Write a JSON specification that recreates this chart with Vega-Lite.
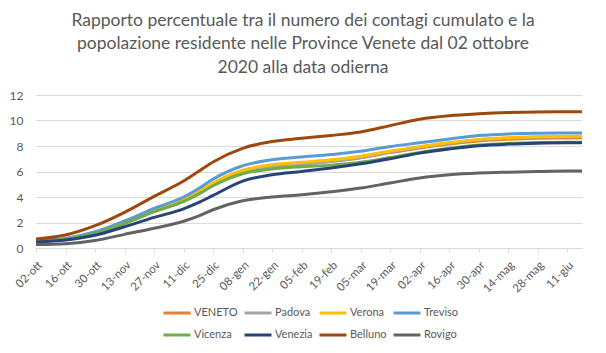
{
  "$schema": "https://vega.github.io/schema/vega-lite/v6.json",
  "autosize": {"type": "none"},
  "width": 546,
  "height": 153,
  "padding": {"left": 36, "top": 95, "right": 24, "bottom": 105},
  "background": "white",
  "title": {
    "text": ["Rapporto percentuale tra il numero dei contagi cumulato e la", "popolazione residente nelle Province Venete dal 02 ottobre", "2020 alla data odierna"],
    "anchor": "middle",
    "frame": "group",
    "dx": -6,
    "font": "Lato",
    "fontSize": 17.5,
    "fontWeight": "normal",
    "color": "#595959",
    "lineHeight": 23.5,
    "offset": 13
  },
  "datasets": {
    "d": [
      {"d":"2020-10-02","s":"VENETO","v":0.52},{"d":"2020-10-16","s":"VENETO","v":0.70},{"d":"2020-10-30","s":"VENETO","v":1.17},{"d":"2020-11-13","s":"VENETO","v":1.95},{"d":"2020-11-27","s":"VENETO","v":2.88},{"d":"2020-12-11","s":"VENETO","v":3.72},{"d":"2020-12-18","s":"VENETO","v":4.30},{"d":"2020-12-25","s":"VENETO","v":5.00},{"d":"2021-01-08","s":"VENETO","v":5.98},{"d":"2021-01-22","s":"VENETO","v":6.40},{"d":"2021-02-05","s":"VENETO","v":6.60},{"d":"2021-02-19","s":"VENETO","v":6.80},{"d":"2021-03-05","s":"VENETO","v":7.08},{"d":"2021-03-19","s":"VENETO","v":7.48},{"d":"2021-04-02","s":"VENETO","v":7.85},{"d":"2021-04-16","s":"VENETO","v":8.15},{"d":"2021-04-30","s":"VENETO","v":8.40},{"d":"2021-05-14","s":"VENETO","v":8.53},{"d":"2021-05-28","s":"VENETO","v":8.60},{"d":"2021-06-11","s":"VENETO","v":8.63},{"d":"2021-06-18","s":"VENETO","v":8.64},
      {"d":"2020-10-02","s":"Padova","v":0.50},{"d":"2020-10-16","s":"Padova","v":0.68},{"d":"2020-10-30","s":"Padova","v":1.15},{"d":"2020-11-13","s":"Padova","v":1.92},{"d":"2020-11-27","s":"Padova","v":2.85},{"d":"2020-12-11","s":"Padova","v":3.65},{"d":"2020-12-18","s":"Padova","v":4.22},{"d":"2020-12-25","s":"Padova","v":4.92},{"d":"2021-01-08","s":"Padova","v":5.92},{"d":"2021-01-22","s":"Padova","v":6.30},{"d":"2021-02-05","s":"Padova","v":6.55},{"d":"2021-02-19","s":"Padova","v":6.78},{"d":"2021-03-05","s":"Padova","v":7.10},{"d":"2021-03-19","s":"Padova","v":7.52},{"d":"2021-04-02","s":"Padova","v":7.90},{"d":"2021-04-16","s":"Padova","v":8.22},{"d":"2021-04-30","s":"Padova","v":8.48},{"d":"2021-05-14","s":"Padova","v":8.62},{"d":"2021-05-28","s":"Padova","v":8.70},{"d":"2021-06-11","s":"Padova","v":8.73},{"d":"2021-06-18","s":"Padova","v":8.74},
      {"d":"2020-10-02","s":"Verona","v":0.55},{"d":"2020-10-16","s":"Verona","v":0.72},{"d":"2020-10-30","s":"Verona","v":1.20},{"d":"2020-11-13","s":"Verona","v":2.00},{"d":"2020-11-27","s":"Verona","v":2.95},{"d":"2020-12-11","s":"Verona","v":3.80},{"d":"2020-12-18","s":"Verona","v":4.40},{"d":"2020-12-25","s":"Verona","v":5.10},{"d":"2021-01-08","s":"Verona","v":6.10},{"d":"2021-01-22","s":"Verona","v":6.53},{"d":"2021-02-05","s":"Verona","v":6.72},{"d":"2021-02-19","s":"Verona","v":6.92},{"d":"2021-03-05","s":"Verona","v":7.20},{"d":"2021-03-19","s":"Verona","v":7.60},{"d":"2021-04-02","s":"Verona","v":7.95},{"d":"2021-04-16","s":"Verona","v":8.27},{"d":"2021-04-30","s":"Verona","v":8.52},{"d":"2021-05-14","s":"Verona","v":8.65},{"d":"2021-05-28","s":"Verona","v":8.72},{"d":"2021-06-11","s":"Verona","v":8.75},{"d":"2021-06-18","s":"Verona","v":8.76},
      {"d":"2020-10-02","s":"Treviso","v":0.58},{"d":"2020-10-16","s":"Treviso","v":0.75},{"d":"2020-10-30","s":"Treviso","v":1.27},{"d":"2020-11-13","s":"Treviso","v":2.12},{"d":"2020-11-27","s":"Treviso","v":3.10},{"d":"2020-12-11","s":"Treviso","v":4.00},{"d":"2020-12-18","s":"Treviso","v":4.65},{"d":"2020-12-25","s":"Treviso","v":5.40},{"d":"2021-01-08","s":"Treviso","v":6.45},{"d":"2021-01-22","s":"Treviso","v":6.92},{"d":"2021-02-05","s":"Treviso","v":7.13},{"d":"2021-02-19","s":"Treviso","v":7.33},{"d":"2021-03-05","s":"Treviso","v":7.58},{"d":"2021-03-19","s":"Treviso","v":7.96},{"d":"2021-04-02","s":"Treviso","v":8.25},{"d":"2021-04-16","s":"Treviso","v":8.55},{"d":"2021-04-30","s":"Treviso","v":8.82},{"d":"2021-05-14","s":"Treviso","v":8.95},{"d":"2021-05-28","s":"Treviso","v":9.00},{"d":"2021-06-11","s":"Treviso","v":9.02},{"d":"2021-06-18","s":"Treviso","v":9.02},
      {"d":"2020-10-02","s":"Vicenza","v":0.52},{"d":"2020-10-16","s":"Vicenza","v":0.68},{"d":"2020-10-30","s":"Vicenza","v":1.15},{"d":"2020-11-13","s":"Vicenza","v":1.93},{"d":"2020-11-27","s":"Vicenza","v":2.85},{"d":"2020-12-11","s":"Vicenza","v":3.65},{"d":"2020-12-18","s":"Vicenza","v":4.22},{"d":"2020-12-25","s":"Vicenza","v":4.88},{"d":"2021-01-08","s":"Vicenza","v":5.82},{"d":"2021-01-22","s":"Vicenza","v":6.20},{"d":"2021-02-05","s":"Vicenza","v":6.38},{"d":"2021-02-19","s":"Vicenza","v":6.50},{"d":"2021-03-05","s":"Vicenza","v":6.72},{"d":"2021-03-19","s":"Vicenza","v":7.10},{"d":"2021-04-02","s":"Vicenza","v":7.50},{"d":"2021-04-16","s":"Vicenza","v":7.82},{"d":"2021-04-30","s":"Vicenza","v":8.07},{"d":"2021-05-14","s":"Vicenza","v":8.20},{"d":"2021-05-28","s":"Vicenza","v":8.27},{"d":"2021-06-11","s":"Vicenza","v":8.30},{"d":"2021-06-18","s":"Vicenza","v":8.30},
      {"d":"2020-10-02","s":"Venezia","v":0.48},{"d":"2020-10-16","s":"Venezia","v":0.63},{"d":"2020-10-30","s":"Venezia","v":1.00},{"d":"2020-11-13","s":"Venezia","v":1.67},{"d":"2020-11-27","s":"Venezia","v":2.40},{"d":"2020-12-11","s":"Venezia","v":3.07},{"d":"2020-12-18","s":"Venezia","v":3.55},{"d":"2020-12-25","s":"Venezia","v":4.12},{"d":"2021-01-08","s":"Venezia","v":5.25},{"d":"2021-01-22","s":"Venezia","v":5.74},{"d":"2021-02-05","s":"Venezia","v":6.00},{"d":"2021-02-19","s":"Venezia","v":6.27},{"d":"2021-03-05","s":"Venezia","v":6.60},{"d":"2021-03-19","s":"Venezia","v":7.00},{"d":"2021-04-02","s":"Venezia","v":7.44},{"d":"2021-04-16","s":"Venezia","v":7.76},{"d":"2021-04-30","s":"Venezia","v":8.02},{"d":"2021-05-14","s":"Venezia","v":8.15},{"d":"2021-05-28","s":"Venezia","v":8.22},{"d":"2021-06-11","s":"Venezia","v":8.25},{"d":"2021-06-18","s":"Venezia","v":8.25},
      {"d":"2020-10-02","s":"Belluno","v":0.70},{"d":"2020-10-16","s":"Belluno","v":1.02},{"d":"2020-10-30","s":"Belluno","v":1.75},{"d":"2020-11-13","s":"Belluno","v":2.80},{"d":"2020-11-27","s":"Belluno","v":4.05},{"d":"2020-12-11","s":"Belluno","v":5.25},{"d":"2020-12-18","s":"Belluno","v":6.00},{"d":"2020-12-25","s":"Belluno","v":6.75},{"d":"2021-01-08","s":"Belluno","v":7.82},{"d":"2021-01-22","s":"Belluno","v":8.35},{"d":"2021-02-05","s":"Belluno","v":8.60},{"d":"2021-02-19","s":"Belluno","v":8.83},{"d":"2021-03-05","s":"Belluno","v":9.10},{"d":"2021-03-19","s":"Belluno","v":9.60},{"d":"2021-04-02","s":"Belluno","v":10.10},{"d":"2021-04-16","s":"Belluno","v":10.37},{"d":"2021-04-30","s":"Belluno","v":10.52},{"d":"2021-05-14","s":"Belluno","v":10.62},{"d":"2021-05-28","s":"Belluno","v":10.67},{"d":"2021-06-11","s":"Belluno","v":10.68},{"d":"2021-06-18","s":"Belluno","v":10.68},
      {"d":"2020-10-02","s":"Rovigo","v":0.28},{"d":"2020-10-16","s":"Rovigo","v":0.34},{"d":"2020-10-30","s":"Rovigo","v":0.58},{"d":"2020-11-13","s":"Rovigo","v":1.07},{"d":"2020-11-27","s":"Rovigo","v":1.55},{"d":"2020-12-11","s":"Rovigo","v":2.10},{"d":"2020-12-18","s":"Rovigo","v":2.50},{"d":"2020-12-25","s":"Rovigo","v":3.00},{"d":"2021-01-08","s":"Rovigo","v":3.70},{"d":"2021-01-22","s":"Rovigo","v":4.00},{"d":"2021-02-05","s":"Rovigo","v":4.18},{"d":"2021-02-19","s":"Rovigo","v":4.41},{"d":"2021-03-05","s":"Rovigo","v":4.70},{"d":"2021-03-19","s":"Rovigo","v":5.10},{"d":"2021-04-02","s":"Rovigo","v":5.49},{"d":"2021-04-16","s":"Rovigo","v":5.74},{"d":"2021-04-30","s":"Rovigo","v":5.88},{"d":"2021-05-14","s":"Rovigo","v":5.95},{"d":"2021-05-28","s":"Rovigo","v":6.00},{"d":"2021-06-11","s":"Rovigo","v":6.03},{"d":"2021-06-18","s":"Rovigo","v":6.03}
    ]
  },
  "data": {"name": "d"},
  "mark": {"type": "line", "strokeWidth": 3, "interpolate": "monotone"},
  "encoding": {
    "x": {
      "field": "d",
      "type": "temporal",
      "scale": {
        "type": "utc",
        "domain": [{"year": 2020, "month": 10, "date": 2, "utc": true}, {"year": 2021, "month": 6, "date": 18, "utc": true}],
        "nice": false
      },
      "axis": {
        "title": null,
        "grid": false,
        "values": [
          {"year": 2020, "month": 10, "date": 2, "utc": true},
          {"year": 2020, "month": 10, "date": 16, "utc": true},
          {"year": 2020, "month": 10, "date": 30, "utc": true},
          {"year": 2020, "month": 11, "date": 13, "utc": true},
          {"year": 2020, "month": 11, "date": 27, "utc": true},
          {"year": 2020, "month": 12, "date": 11, "utc": true},
          {"year": 2020, "month": 12, "date": 25, "utc": true},
          {"year": 2021, "month": 1, "date": 8, "utc": true},
          {"year": 2021, "month": 1, "date": 22, "utc": true},
          {"year": 2021, "month": 2, "date": 5, "utc": true},
          {"year": 2021, "month": 2, "date": 19, "utc": true},
          {"year": 2021, "month": 3, "date": 5, "utc": true},
          {"year": 2021, "month": 3, "date": 19, "utc": true},
          {"year": 2021, "month": 4, "date": 2, "utc": true},
          {"year": 2021, "month": 4, "date": 16, "utc": true},
          {"year": 2021, "month": 4, "date": 30, "utc": true},
          {"year": 2021, "month": 5, "date": 14, "utc": true},
          {"year": 2021, "month": 5, "date": 28, "utc": true},
          {"year": 2021, "month": 6, "date": 11, "utc": true}
        ],
        "labelExpr": "utcFormat(datum.value, '%d') + '-' + ['gen','feb','mar','apr','mag','giu','lug','ago','set','ott','nov','dic'][utcmonth(datum.value)]",
        "labelAngle": -45,
        "labelAlign": "right",
        "labelBaseline": "top",
        "labelPadding": 7,
        "labelFont": "Lato",
        "labelFontSize": 11.5,
        "labelColor": "#595959",
        "labelOverlap": false,
        "labelFlush": false,
        "domainColor": "#d9d9d9",
        "domainWidth": 1,
        "tickColor": "#d9d9d9",
        "tickSize": 4
      }
    },
    "y": {
      "field": "v",
      "type": "quantitative",
      "scale": {"domain": [0, 12], "nice": false},
      "axis": {
        "title": null,
        "values": [0, 2, 4, 6, 8, 10, 12],
        "domain": false,
        "ticks": false,
        "labelPadding": 13,
        "labelFont": "Lato",
        "labelFontSize": 12,
        "labelColor": "#595959",
        "gridColor": "#d9d9d9",
        "gridWidth": 1
      }
    },
    "color": {
      "field": "s",
      "type": "nominal",
      "scale": {
        "domain": ["VENETO", "Padova", "Verona", "Treviso", "Vicenza", "Venezia", "Belluno", "Rovigo"],
        "range": ["#ED7D31", "#A5A5A5", "#FFC000", "#5B9BD5", "#70AD47", "#264478", "#9E480E", "#636363"]
      },
      "legend": {
        "title": null,
        "orient": "none",
        "legendX": 126,
        "legendY": 203,
        "direction": "horizontal",
        "columns": 4,
        "symbolType": "stroke",
        "symbolSize": 729,
        "symbolStrokeWidth": 3,
        "labelFont": "Lato",
        "labelFontSize": 11,
        "labelColor": "#595959",
        "labelOffset": 2,
        "columnPadding": 0,
        "rowPadding": 1
      }
    }
  },
  "config": {
    "view": {"stroke": null}
  }
}
